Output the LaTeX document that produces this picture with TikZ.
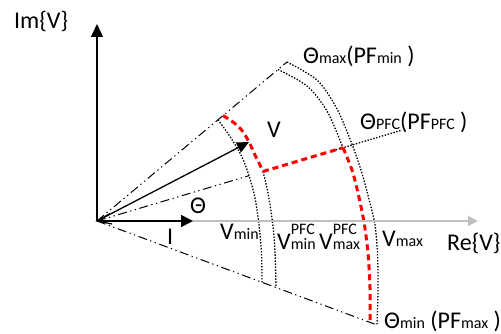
\documentclass[tikz,border=0pt]{standalone}
\usepackage{fontspec}
\setmainfont{Carlito}
\usetikzlibrary{arrows.meta}
\newcommand\smtxt[1]{{\fontsize{16}{18}\selectfont #1}}
\begin{document}
\begin{tikzpicture}[x=1pt,y=-1pt,
  dashdot/.style={line width=1pt, dash pattern=on 9pt off 3.5pt on 1.3pt off 3.5pt on 1.3pt off 3.5pt},
  dotline/.style={line width=1.3pt, dash pattern=on 1.4pt off 1.6pt},
  reddash/.style={red, line width=3pt, dash pattern=on 6pt off 4pt},
  axisline/.style={line width=1.4pt},
  lbl/.style={inner sep=0pt, anchor=base west, font=\fontsize{24}{28}\selectfont},
  ]
\useasboundingbox (0,0) rectangle (501,334);
% key points
\coordinate (O) at (97,221);
\coordinate (imTop) at (97,24);
\coordinate (reEnd) at (478,221);
\coordinate (Itip) at (193,221);
\coordinate (Vtip) at (249,142);
\coordinate (maxEnd) at (287,62);
\coordinate (minEnd) at (377,325);
\coordinate (pfcA) at (249,175.7);
\coordinate (pfcB) at (263,171.5);
\coordinate (pfcC) at (343,147.7);
\coordinate (pfcS) at (333,150.7);
\coordinate (pfcD) at (402,130.1);
\coordinate (barbL) at (112,224);
\coordinate (barbU) at (110,213.5);
% rays
\draw[dashdot] (O) -- (maxEnd);
\draw[dashdot] (O) -- (minEnd);
\draw[dashdot] (O) -- (pfcA);
\draw[dotline] (pfcS) -- (pfcD);
% arcs
\draw[dotline] plot[smooth] coordinates {(287,62) (317,80) (336,107) (350,139) (361,170) (370,203) (375,225) (377.5,253) (378,290) (377,325)};
\draw[dotline] plot[smooth] coordinates {(278,69.5) (307,86) (327,111) (343,147.7)};
\draw[dotline] plot[smooth] coordinates {(218,119.7) (231,138) (242,157) (249,175.7) (255,198) (259,225) (261.5,253) (262,282.3)};
\draw[dotline] plot[smooth] coordinates {(263,171.5) (268,193) (272.5,222) (275,252) (276,287.5)};
% red PFC boundary
\draw[reddash] plot[smooth] coordinates {(223,115.6) (233,122) (242,130.5) (249,142) (255,155) (260,165) (263,171.5)};
\draw[reddash] (pfcB) -- (pfcC);
\draw[reddash] plot[smooth] coordinates {(343,147.7) (352,170) (358,193) (364,222) (368,253) (370,288) (370,322.5)};
% axes
\draw[axisline, black!25, -{Triangle[length=10pt,width=10pt]}] (O) -- (reEnd);
\draw[axisline, -{Triangle[length=13pt,width=12pt]}] (O) -- (imTop);
% phasors
\draw[line width=1.8pt, -{Triangle[length=12pt,width=12pt]}] (O) -- (Itip);
\draw[line width=1.3pt, -{Triangle[length=12pt,width=11pt]}] (O) -- (Vtip);
\draw[line width=1.2pt] (barbL) -- (O) -- (barbU);
% labels
\node[lbl] (imlbl) at (14,28.5) {Im\{V\}};
\node[lbl] (relbl) at (447,250) {Re\{V\}};
\node[lbl] (vminlbl) at (220,240) {V\smtxt{min}};
\node[lbl] (vpfcmin) at (277,249) {V\rlap{\raisebox{15pt}{\smtxt{PFC}}}\smtxt{min}};
\node[lbl] (vpfcmax) at (319,249) {V\rlap{\raisebox{15pt}{\smtxt{PFC}}}\smtxt{max}};
\node[lbl] (vmaxlbl) at (382,247) {V\smtxt{max}};
\node[lbl] (thmax) at (303,64) {Θ\smtxt{max}(PF\smtxt{min} )};
\node[lbl] (thpfc) at (360,130) {Θ\smtxt{PFC}(PF\smtxt{PFC} )};
\node[lbl] (thmin) at (384,328) {Θ\smtxt{min} (PF\smtxt{max} )};
\node[lbl] (vlbl) at (267,138) {V};
\node[lbl] (thlbl) at (190,214) {Θ};
\node[lbl] (ilbl) at (167,244) {I};
\end{tikzpicture}
\end{document}
